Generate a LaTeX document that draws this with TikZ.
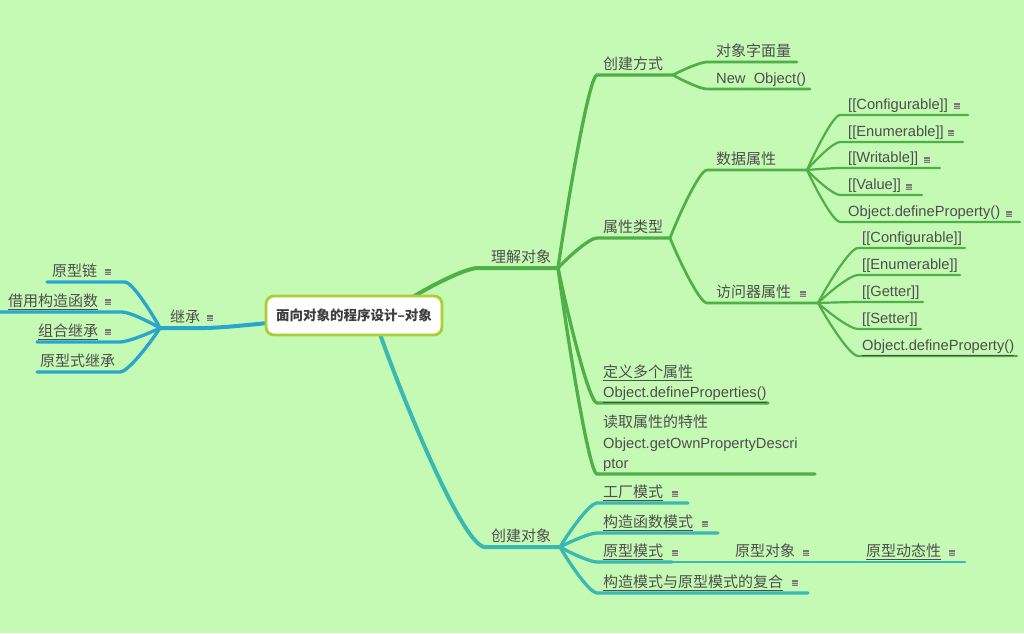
\documentclass[tikz,border=0pt]{standalone}
\usepackage{fontspec}
\setmainfont{Noto Sans CJK SC}
\newfontfamily\latf{Liberation Sans}
\newcommand\lat[1]{{\latf\fontsize{14.7}{20.5}\selectfont #1}}
\usetikzlibrary{calc}
\definecolor{bgc}{RGB}{197,250,180}
\definecolor{grn}{RGB}{80,176,72}
\definecolor{tea}{RGB}{58,184,178}
\definecolor{blu}{RGB}{40,166,204}
\definecolor{txt}{RGB}{78,78,78}
\definecolor{rootb}{RGB}{172,206,52}
\definecolor{icn}{RGB}{118,122,108}
\pgfdeclarelayer{bg}\pgfdeclarelayer{edges}\pgfsetlayers{bg,edges,main}
\tikzset{
  lbl/.style={anchor=south west, inner sep=0pt, text depth=0pt, text=txt,
    font=\fontsize{15}{20.5}\selectfont, align=left},
  noteicon/.style={inner sep=0pt, minimum width=6pt, minimum height=6pt, fill=icn,
    path picture={\foreach \k in {-1.2,1.0}{\draw[icn!45!white,line width=0.6pt]
      ([yshift=\k pt]path picture bounding box.west) -- ([yshift=\k pt]path picture bounding box.east);}}},
  rootbox/.style={draw=rootb, line width=2.8pt, fill=white, rounded corners=8pt,
    minimum width=176pt, minimum height=39pt, text=txt!80!black,
    font=\fontsize{13.5}{15}\selectfont\bfseries},
  lvA/.style={line width=4pt, line cap=round},
  lvB/.style={line width=3.3pt, line cap=round},
  lvC/.style={line width=2.7pt, line cap=round},
  lvD/.style={line width=2.2pt, line cap=round},
}
\newcommand\topic[6]{%
  \coordinate (#1-n) at (#2,#4);
  \coordinate (#1-f) at (#3,#4);
  \node[lbl] (#1) at (#5,#4-5) {#6};}
\newcommand\noteat[3]{\node[noteicon] (#1) at (#2,#3) {};}
\newcommand\link[4]{%
  \draw[#1] let \p1=(#2), \p2=(#3) in (\p1) .. controls ({\x1+0.25*(\x2-\x1)},{\y1+0.35*(\y2-\y1)}) and ({\x1+0.8*(\x2-\x1)},\y2) .. (\p2) -- (#4);}
\begin{document}
\begin{tikzpicture}[x=1pt,y=-1pt]
\begin{pgfonlayer}{bg}
\fill[bgc] (0,0) rectangle (1024,633);
\end{pgfonlayer}
\useasboundingbox (0,0) rectangle (1024,633);

% root
\node[rootbox] (root) at (354,315.5) {面向对象的程序设计–对象};
\coordinate (r1) at (413,297);
\coordinate (r2) at (380,334);
\coordinate (r3) at (267,323);

% left (blue)
\topic{jc}{205}{160}{328}{170}{继承}
\noteat{i-jc}{210}{318}
\topic{yxl}{125}{47}{282}{52}{原型链}
\noteat{i-yxl}{108}{272}
\topic{jy}{122}{0}{312}{8}{\underline{借用构造函数}}
\noteat{i-jy}{108}{302}
\topic{zh}{120}{37}{342}{38}{\underline{组合继承}}
\noteat{i-zh}{108}{332}
\topic{yxs}{120}{37}{372}{40}{原型式继承}

% right (green)
\topic{lj}{478}{558}{268}{491}{理解对象}
\topic{cjfs}{597}{673}{75}{603}{创建方式}
\topic{dx}{707}{797}{62}{716}{对象字面量}
\topic{no}{707}{810}{89}{716}{\lat{New\ \ Object()}}
\topic{sxlx}{597}{670}{238}{603}{属性类型}
\topic{sj}{707}{807}{170}{716}{数据属性}
\topic{sja}{840}{968}{115}{848}{\lat{[[Configurable]]}}
\noteat{i-sja}{957}{106}
\topic{sjb}{840}{963}{142}{848}{\lat{[[Enumerable]]}}
\noteat{i-sjb}{951}{133}
\topic{sjc}{840}{940}{168}{848}{\lat{[[Writable]]}}
\noteat{i-sjc}{927}{160}
\topic{sjd}{840}{922}{195}{848}{\lat{[[Value]]}}
\noteat{i-sjd}{909}{187}
\topic{sje}{840}{1020}{222}{848}{\lat{Object.defineProperty()}}
\noteat{i-sje}{1009}{214}
\topic{fw}{707}{818}{303}{716}{访问器属性}
\noteat{i-fw}{803}{294}
\topic{fwa}{858}{965}{248}{862}{\lat{[[Configurable]]}}
\topic{fwb}{858}{960}{275}{862}{\lat{[[Enumerable]]}}
\topic{fwc}{858}{923}{302}{862}{\lat{[[Getter]]}}
\topic{fwd}{858}{921}{329}{862}{\lat{[[Setter]]}}
\topic{fwe}{858}{1017}{356}{862}{\lat{\underline{Object.defineProperty()}}}
\topic{dy}{597}{768}{403}{603}{\underline{定义多个属性}\\\lat{\underline{Object.defineProperties()}}}
\topic{dq}{597}{815}{474}{603}{读取属性的特性\\\lat{Object.getOwnPropertyDescri}\\\lat{ptor}}

% bottom (teal)
\topic{cjdx}{485}{560}{547}{491}{创建对象}
\topic{gc}{597}{688}{503}{603}{\underline{工厂模式}}
\noteat{i-gc}{675}{494}
\topic{gz}{597}{718}{533}{603}{\underline{构造函数模式}}
\noteat{i-gz}{705}{524}
\topic{yx}{597}{672}{562}{603}{\underline{原型模式}}
\noteat{i-yx}{675}{553}
\topic{yxdx}{672}{818}{562}{735}{原型对象}
\noteat{i-yxdx}{806}{553}
\topic{yxdt}{818}{965}{562}{866}{\underline{原型动态性}}
\noteat{i-yxdt}{952}{553}
\topic{fh}{597}{808}{593}{603}{\underline{构造模式与原型模式的复合}}
\noteat{i-fh}{795}{583}

\begin{pgfonlayer}{edges}
% blue
\link{blu,lvA}{r3}{jc-n}{jc-f}
\link{blu,lvB}{jc-f}{yxl-n}{yxl-f}
\link{blu,lvB}{jc-f}{jy-n}{jy-f}
\link{blu,lvB}{jc-f}{zh-n}{zh-f}
\link{blu,lvB}{jc-f}{yxs-n}{yxs-f}
% green
\link{grn,lvA}{r1}{lj-n}{lj-f}
\link{grn,lvB}{lj-f}{cjfs-n}{cjfs-f}
\link{grn,lvC}{cjfs-f}{dx-n}{dx-f}
\link{grn,lvC}{cjfs-f}{no-n}{no-f}
\link{grn,lvB}{lj-f}{sxlx-n}{sxlx-f}
\link{grn,lvC}{sxlx-f}{sj-n}{sj-f}
\link{grn,lvD}{sj-f}{sja-n}{sja-f}
\link{grn,lvD}{sj-f}{sjb-n}{sjb-f}
\link{grn,lvD}{sj-f}{sjc-n}{sjc-f}
\link{grn,lvD}{sj-f}{sjd-n}{sjd-f}
\link{grn,lvD}{sj-f}{sje-n}{sje-f}
\link{grn,lvC}{sxlx-f}{fw-n}{fw-f}
\link{grn,lvD}{fw-f}{fwa-n}{fwa-f}
\link{grn,lvD}{fw-f}{fwb-n}{fwb-f}
\link{grn,lvD}{fw-f}{fwc-n}{fwc-f}
\link{grn,lvD}{fw-f}{fwd-n}{fwd-f}
\link{grn,lvD}{fw-f}{fwe-n}{fwe-f}
\link{grn,lvB}{lj-f}{dy-n}{dy-f}
\link{grn,lvB}{lj-f}{dq-n}{dq-f}
% teal
\link{tea,lvA}{r2}{cjdx-n}{cjdx-f}
\link{tea,lvB}{cjdx-f}{gc-n}{gc-f}
\link{tea,lvB}{cjdx-f}{gz-n}{gz-f}
\link{tea,lvB}{cjdx-f}{yx-n}{yx-f}
\draw[tea,lvC] (yx-f) -- (yxdx-f);
\draw[tea,lvD] (yxdx-f) -- (yxdt-f);
\link{tea,lvB}{cjdx-f}{fh-n}{fh-f}
\end{pgfonlayer}
\end{tikzpicture}
\end{document}
